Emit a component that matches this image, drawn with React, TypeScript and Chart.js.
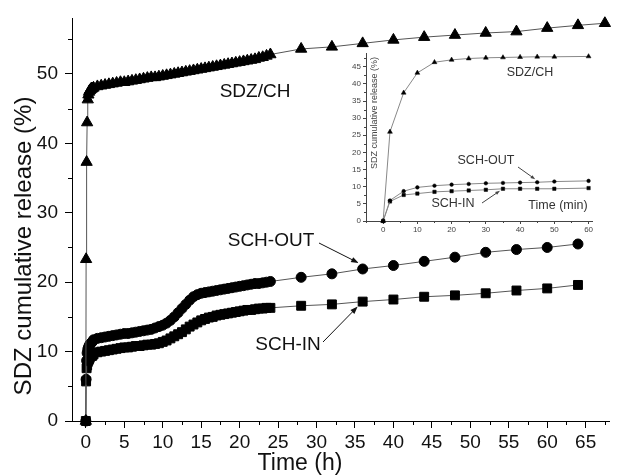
import { useEffect, useRef } from 'react';
import { Chart, registerables } from 'chart.js';

Chart.register(...registerables);

const FONT = '"Liberation Sans", Arial, Helvetica, sans-serif';

// ---------- main chart data (time in hours) ----------
const timeH = [
  0, 0.033, 0.1, 0.167, 0.25, 0.333, 0.417, 0.5, 0.583, 0.667, 0.75, 0.833, 1,
  1.5, 2, 2.5, 3, 3.5, 4, 4.5, 5, 5.5, 6, 6.5, 7, 7.5, 8, 8.5, 9, 9.5, 10,
  10.5, 11, 11.5, 12, 12.5, 13, 13.5, 14, 14.5, 15, 15.5, 16, 16.5, 17, 17.5,
  18, 18.5, 19, 19.5, 20, 20.5, 21, 21.5, 22, 22.5, 23, 23.5, 24,
  28, 32, 36, 40, 44, 48, 52, 56, 60, 64,
];
const timeHCh = [...timeH, 67.5];

const sdzCh = [
  0, 23.3, 37.3, 43.0, 46.3, 47.0, 47.4, 47.6, 47.7, 47.8, 47.9, 47.9, 48.0,
  48.2, 48.3, 48.4, 48.5, 48.6, 48.7, 48.8, 48.8, 48.9, 49.0, 49.1, 49.2, 49.3, 49.4, 49.5, 49.5, 49.6, 49.7,
  49.8, 49.9, 50.0, 50.1, 50.2, 50.3, 50.4, 50.5, 50.6, 50.7, 50.8, 50.9, 51.0, 51.1, 51.2,
  51.3, 51.4, 51.5, 51.6, 51.7, 51.8, 51.9, 52.0, 52.1, 52.3, 52.4, 52.6, 52.8,
  53.6, 53.9, 54.4, 54.9, 55.3, 55.6, 55.9, 56.1, 56.6, 57.0, 57.3,
];

const schOut = [
  0, 6.0, 8.7, 9.8, 10.3, 10.6, 10.8, 11.0, 11.1, 11.2, 11.3, 11.4, 11.7,
  11.9, 12.0, 12.1, 12.2, 12.3, 12.4, 12.5, 12.6, 12.6, 12.7, 12.8, 12.9, 13.0, 13.1, 13.2, 13.4, 13.6, 13.8,
  14.1, 14.5, 15.0, 15.6, 16.2, 16.8, 17.4, 17.9, 18.2, 18.4, 18.5, 18.6, 18.7, 18.8, 18.9,
  19.0, 19.1, 19.2, 19.3, 19.4, 19.5, 19.6, 19.7, 19.8, 19.8, 19.9, 20.0, 20.1,
  20.7, 21.2, 21.9, 22.4, 23.0, 23.6, 24.3, 24.7, 25.0, 25.5,
];

const schIn = [
  0, 5.7, 7.6, 8.0, 8.5, 8.7, 8.9, 9.1, 9.3, 9.4, 9.4, 9.4, 9.6,
  9.9, 10.0, 10.1, 10.2, 10.3, 10.4, 10.5, 10.6, 10.6, 10.7, 10.8, 10.8, 10.9, 11.0, 11.0, 11.1, 11.2, 11.4,
  11.6, 11.9, 12.2, 12.5, 12.8, 13.2, 13.6, 13.9, 14.2, 14.5, 14.7, 14.9, 15.0, 15.2, 15.3,
  15.4, 15.5, 15.6, 15.7, 15.8, 15.9, 16.0, 16.0, 16.1, 16.2, 16.2, 16.3, 16.3,
  16.6, 16.8, 17.2, 17.5, 17.9, 18.1, 18.4, 18.8, 19.1, 19.6,
];

const xMajor = [0, 5, 10, 15, 20, 25, 30, 35, 40, 45, 50, 55, 60, 65];
const xMinor = [2.5, 7.5, 12.5, 17.5, 22.5, 27.5, 32.5, 37.5, 42.5, 47.5, 52.5, 57.5, 62.5, 67.5];
const yMajor = [0, 10, 20, 30, 40, 50];
const yMinor = [5, 15, 25, 35, 45, 55];

// ---------- inset data (time in minutes) ----------
const timeMin = [0, 2, 6, 10, 15, 20, 25, 30, 35, 40, 45, 50, 60];
const insetCh = [0, 26.0, 37.4, 43.2, 46.3, 47.0, 47.4, 47.6, 47.7, 47.8, 47.9, 47.9, 48.0];
const insetOut = [0, 6.0, 8.7, 9.8, 10.3, 10.6, 10.8, 11.0, 11.1, 11.2, 11.3, 11.5, 11.7];
const insetIn = [0, 5.7, 7.6, 8.0, 8.5, 8.7, 8.9, 9.1, 9.4, 9.4, 9.4, 9.4, 9.6];

const ixMajor = [0, 10, 20, 30, 40, 50, 60];
const ixMinor = [-5, 5, 15, 25, 35, 45, 55];
const iyMajor = [0, 5, 10, 15, 20, 25, 30, 35, 40, 45];
const iyMinor = [2.5, 7.5, 12.5, 17.5, 22.5, 27.5, 32.5, 37.5, 42.5, 47.5];

const pts = (xs: number[], ys: number[]) => ys.map((y, i) => ({ x: xs[i], y }));

function drawArrow(ctx: CanvasRenderingContext2D, x1: number, y1: number, x2: number, y2: number, head: number, color: string) {
  const a = Math.atan2(y2 - y1, x2 - x1);
  ctx.save();
  ctx.strokeStyle = color;
  ctx.fillStyle = color;
  ctx.lineWidth = 1;
  ctx.beginPath();
  ctx.moveTo(x1, y1);
  ctx.lineTo(x2 - Math.cos(a) * head * 0.8, y2 - Math.sin(a) * head * 0.8);
  ctx.stroke();
  ctx.beginPath();
  ctx.moveTo(x2, y2);
  ctx.lineTo(x2 - Math.cos(a - 0.35) * head, y2 - Math.sin(a - 0.35) * head);
  ctx.lineTo(x2 - Math.cos(a + 0.35) * head, y2 - Math.sin(a + 0.35) * head);
  ctx.closePath();
  ctx.fill();
  ctx.restore();
}

function minorTicks(id: string, xm: number[], ym: number[], len: number, color: string) {
  return {
    id,
    afterDraw(chart: any) {
      const { ctx, chartArea } = chart;
      const xs = chart.scales.x;
      const ys = chart.scales.y;
      ctx.save();
      ctx.strokeStyle = color;
      ctx.lineWidth = 1;
      ctx.beginPath();
      xm.forEach((v) => {
        const p = Math.round(xs.getPixelForValue(v)) + 0.5;
        if (p < chartArea.left || p > chartArea.right + 1) return;
        ctx.moveTo(p, chartArea.bottom);
        ctx.lineTo(p, chartArea.bottom + len);
      });
      ym.forEach((v) => {
        const p = Math.round(ys.getPixelForValue(v)) + 0.5;
        if (p < chartArea.top - 1 || p > chartArea.bottom) return;
        ctx.moveTo(chartArea.left, p);
        ctx.lineTo(chartArea.left - len, p);
      });
      ctx.stroke();
      ctx.restore();
    },
  };
}

const mainLabels = {
  id: 'mainLabels',
  afterDatasetsDraw(chart: any) {
    const { ctx } = chart;
    const xs = chart.scales.x;
    const ys = chart.scales.y;
    ctx.save();
    ctx.fillStyle = '#111';
    ctx.textAlign = 'center';
    ctx.textBaseline = 'middle';
    ctx.font = `19px ${FONT}`;
    ctx.fillText('SDZ/CH', 255, 92);
    ctx.fillText('SCH-OUT', 271, 241);
    ctx.fillText('SCH-IN', 288, 345);
    const i36 = timeH.indexOf(36);
    const px = xs.getPixelForValue(timeH[i36]);
    drawArrow(ctx, 319, 243, px - 4, ys.getPixelForValue(schOut[i36]) - 6, 8, '#111');
    drawArrow(ctx, 323, 342, px - 5, ys.getPixelForValue(schIn[i36]) + 5, 8, '#111');
    ctx.font = `23px ${FONT}`;
    ctx.fillText('Time (h)', 300, 464);
    ctx.translate(24, 246);
    ctx.rotate(-Math.PI / 2);
    ctx.font = `24px ${FONT}`;
    ctx.fillText('SDZ cumulative release (%)', 0, 0);
    ctx.restore();
  },
};

const insetLabels = {
  id: 'insetLabels',
  afterDatasetsDraw(chart: any) {
    const { ctx } = chart;
    const xs = chart.scales.x;
    const ys = chart.scales.y;
    ctx.save();
    ctx.fillStyle = '#333';
    ctx.textAlign = 'center';
    ctx.textBaseline = 'middle';
    ctx.font = `12.5px ${FONT}`;
    ctx.fillText('SDZ/CH', 530, 73);
    ctx.fillText('SCH-OUT', 486, 161);
    ctx.fillText('SCH-IN', 453, 204);
    ctx.fillText('Time (min)', 558, 206);
    const i45 = timeMin.indexOf(45);
    drawArrow(ctx, 518, 167, xs.getPixelForValue(timeMin[i45]) - 2, ys.getPixelForValue(insetOut[i45]) - 3, 5, '#444');
    const i35 = timeMin.indexOf(35);
    drawArrow(ctx, 482, 203, xs.getPixelForValue(timeMin[i35]) - 3, ys.getPixelForValue(insetIn[i35]) + 2, 5, '#444');
    ctx.font = `9px ${FONT}`;
    ctx.fillStyle = '#444';
    ctx.translate(375, 113);
    ctx.rotate(-Math.PI / 2);
    ctx.fillText('SDZ cumulative release (%)', 0, 0);
    ctx.restore();
  },
};

function mainConfig(): any {
  const line = '#555';
  const ds = (label: string, xs: number[], ys: number[], style: string, r: number) => ({
    label,
    data: pts(xs, ys),
    showLine: true,
    borderColor: line,
    borderWidth: 1,
    tension: 0,
    pointStyle: style,
    pointRadius: r,
    pointBackgroundColor: '#000',
    pointBorderColor: '#000',
    pointBorderWidth: 1,
    clip: false,
  });
  return {
    type: 'scatter',
    data: {
      datasets: [
        ds('SDZ/CH', timeHCh, sdzCh, 'triangle', 6.5),
        ds('SCH-OUT', timeH, schOut, 'circle', 5),
        ds('SCH-IN', timeH, schIn, 'rect', 6.3),
      ],
    },
    options: {
      animation: false,
      responsive: false,
      devicePixelRatio: 1,
      layout: { padding: { top: 15, left: 0, right: 0, bottom: 0 } },
      plugins: { legend: { display: false }, tooltip: { enabled: false } },
      scales: {
        x: {
          type: 'linear',
          min: -1.8,
          max: 68.1,
          afterFit: (s: any) => { s.height = 54; },
          afterBuildTicks: (s: any) => { s.ticks = xMajor.map((v) => ({ value: v })); },
          grid: { drawOnChartArea: false, drawTicks: true, tickLength: 7, color: '#000', tickColor: '#000' },
          border: { display: true, color: '#000', width: 1 },
          ticks: { font: { size: 19, family: FONT }, color: '#111', padding: 3, maxRotation: 0, autoSkip: false },
        },
        y: {
          type: 'linear',
          min: 0,
          max: 58,
          afterFit: (s: any) => { s.width = 72; },
          afterBuildTicks: (s: any) => { s.ticks = yMajor.map((v) => ({ value: v })); },
          grid: { drawOnChartArea: false, drawTicks: true, tickLength: 7, color: '#000', tickColor: '#000' },
          border: { display: true, color: '#000', width: 1 },
          ticks: { font: { size: 19, family: FONT }, color: '#111', padding: 7, autoSkip: false },
        },
      },
    },
    plugins: [minorTicks('mainMinor', xMinor, yMinor, 4, '#000'), mainLabels],
  };
}

function insetConfig(): any {
  const ds = (label: string, ys: number[], style: string, r: number) => ({
    label,
    data: pts(timeMin, ys),
    showLine: true,
    borderColor: '#888',
    borderWidth: 1,
    tension: 0,
    pointStyle: style,
    pointRadius: r,
    pointBackgroundColor: '#000',
    pointBorderColor: '#000',
    pointBorderWidth: 0.5,
    clip: false,
  });
  return {
    type: 'scatter',
    data: {
      datasets: [
        ds('SDZ/CH', insetCh, 'triangle', 2.8),
        ds('SCH-OUT', insetOut, 'circle', 1.8),
        ds('SCH-IN', insetIn, 'rect', 2.4),
      ],
    },
    options: {
      animation: false,
      responsive: false,
      devicePixelRatio: 1,
      layout: { padding: { top: 53, left: 340, right: 25, bottom: 240 } },
      plugins: { legend: { display: false }, tooltip: { enabled: false } },
      scales: {
        x: {
          type: 'linear',
          min: -5,
          max: 61,
          afterFit: (s: any) => { s.height = 14; },
          afterBuildTicks: (s: any) => { s.ticks = ixMajor.map((v) => ({ value: v })); },
          grid: { drawOnChartArea: false, drawTicks: true, tickLength: 3, color: '#444', tickColor: '#444' },
          border: { display: true, color: '#444', width: 1 },
          ticks: { font: { size: 8, family: FONT }, color: '#444', padding: 1, maxRotation: 0, autoSkip: false },
        },
        y: {
          type: 'linear',
          min: 0,
          max: 49,
          afterFit: (s: any) => { s.width = 26; },
          afterBuildTicks: (s: any) => { s.ticks = iyMajor.map((v) => ({ value: v })); },
          grid: { drawOnChartArea: false, drawTicks: true, tickLength: 3, color: '#444', tickColor: '#444' },
          border: { display: true, color: '#444', width: 1 },
          ticks: { font: { size: 8, family: FONT }, color: '#444', padding: 2, autoSkip: false },
        },
      },
    },
    plugins: [minorTicks('insetMinor', ixMinor, iyMinor, 2, '#444'), insetLabels],
  };
}

export default function App() {
  const mainRef = useRef<HTMLCanvasElement>(null);
  const insetRef = useRef<HTMLCanvasElement>(null);
  useEffect(() => {
    const main = new Chart(mainRef.current as HTMLCanvasElement, mainConfig());
    const inset = new Chart(insetRef.current as HTMLCanvasElement, insetConfig());
    return () => {
      main.destroy();
      inset.destroy();
    };
  }, []);
  return (
    <div style={{ position: 'fixed', left: 0, top: 0, width: 617, height: 475, background: '#fff' }}>
      <canvas ref={mainRef} width={617} height={475} style={{ position: 'absolute', left: 0, top: 0 }} />
      <canvas ref={insetRef} width={617} height={475} style={{ position: 'absolute', left: 0, top: 0, pointerEvents: 'none' }} />
    </div>
  );
}
